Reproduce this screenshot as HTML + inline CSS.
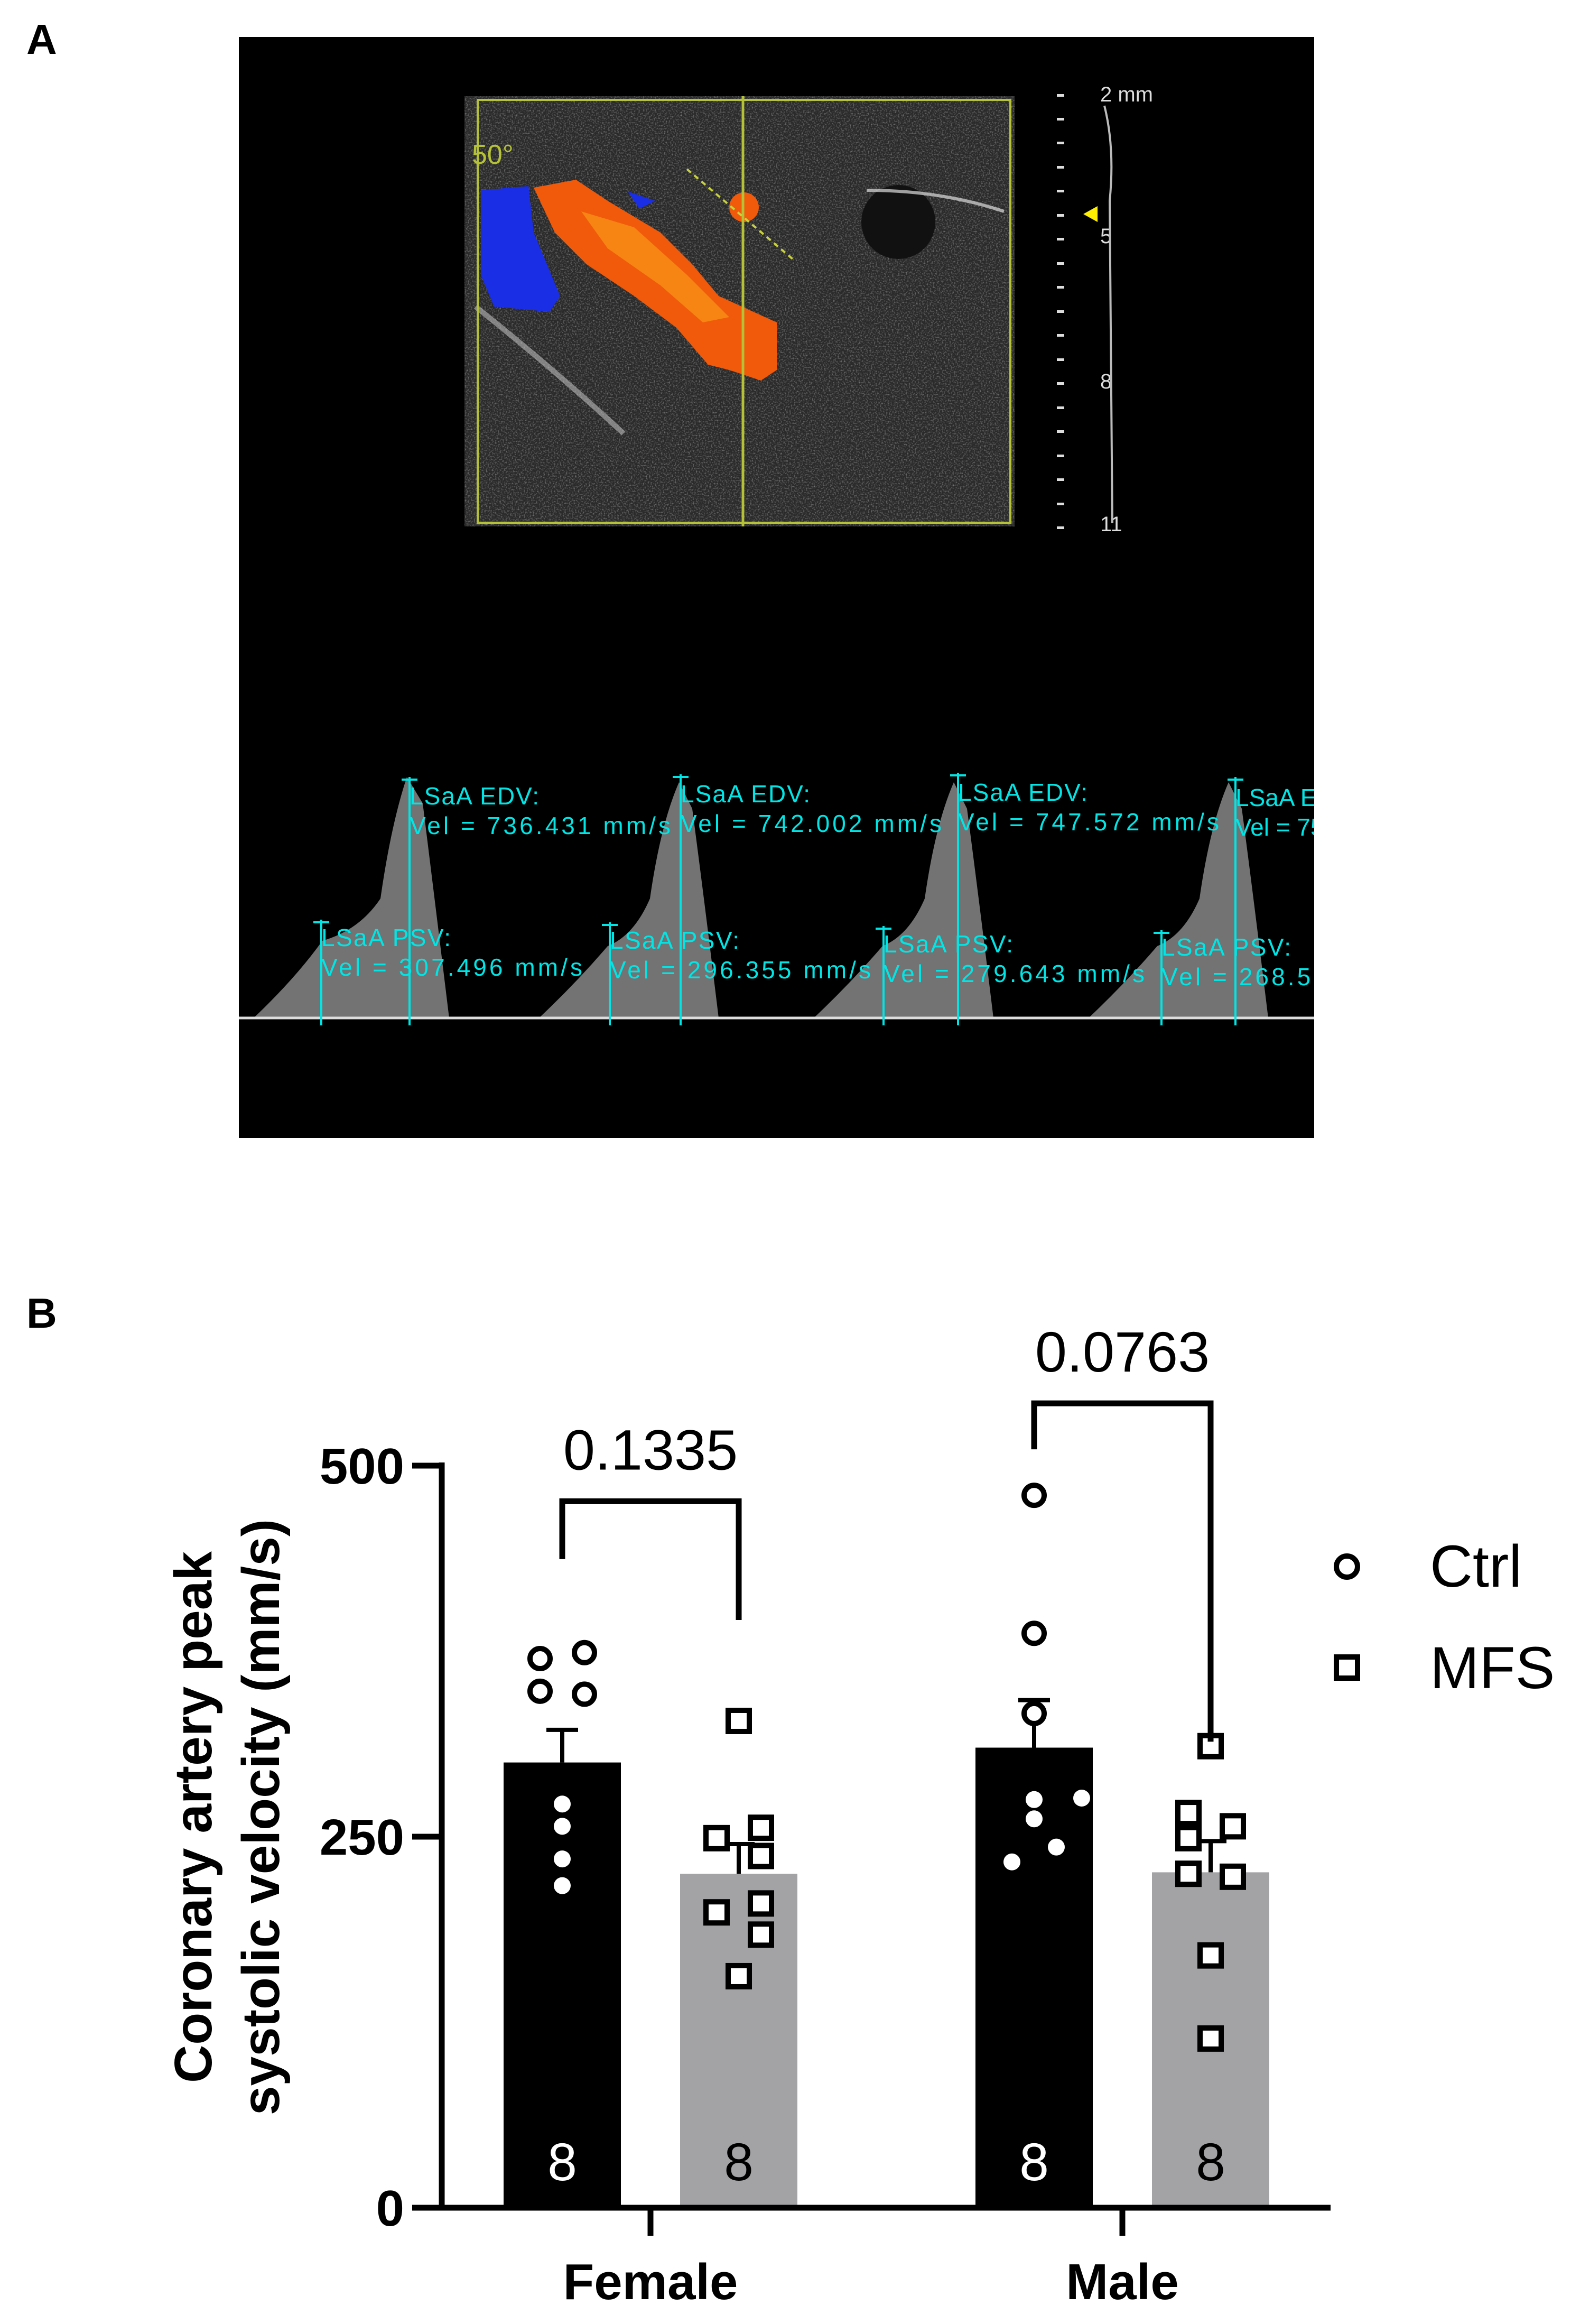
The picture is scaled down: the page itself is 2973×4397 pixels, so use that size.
<!DOCTYPE html>
<html><head><meta charset="utf-8"><style>
html,body{margin:0;padding:0;background:#fff;}
svg{display:block;}
</style></head><body>
<svg id="fig" width="2973" height="4397" viewBox="0 0 2973 4397" xmlns="http://www.w3.org/2000/svg" font-family="Liberation Sans, sans-serif">
<defs>
<filter id="noise" x="0" y="0" width="100%" height="100%">
<feTurbulence type="fractalNoise" baseFrequency="0.35" numOctaves="2" seed="3"/>
<feColorMatrix type="matrix" values="0 0 0 0 1  0 0 0 0 1  0 0 0 0 1  0 0 0 1.6 -0.75"/>
</filter>
<clipPath id="usclip"><rect x="879" y="182" width="1041" height="814"/></clipPath>
<clipPath id="panelclip"><rect x="452" y="70" width="2035" height="2083"/></clipPath>
</defs>
<text x="50" y="102" font-size="80" font-weight="bold">A</text>
<g>
<rect x="452" y="70" width="2035" height="2083" fill="#000"/>
<g clip-path="url(#usclip)">
<rect x="879" y="182" width="1041" height="814" fill="#2a2a2a"/>
<rect x="879" y="182" width="1041" height="814" filter="url(#noise)" opacity="0.55"/>
<ellipse cx="1700" cy="420" rx="70" ry="70" fill="#111"/>
<path d="M900 580 Q1050 700 1180 820" stroke="#bbb" stroke-width="10" fill="none" opacity="0.6"/>
<path d="M1640 360 Q1780 360 1900 400" stroke="#ddd" stroke-width="6" fill="none" opacity="0.7"/>
<path d="M910 360 L1000 352 L1010 440 L1060 560 L1040 590 L935 580 L910 520 Z" fill="#1a2ee6"/>
<path d="M1010 355 L1090 340 L1150 380 L1250 440 L1310 500 L1360 560 L1470 610 L1470 700 L1440 720 L1380 700 L1340 690 L1280 620 L1200 560 L1110 500 L1050 440 Z" fill="#f05a0a"/>
<path d="M1100 400 L1200 430 L1300 520 L1380 600 L1330 610 L1250 540 L1150 470 Z" fill="#f79016" opacity="0.8"/>
<circle cx="1408" cy="392" r="28" fill="#f05a0a"/>
<path d="M1188 362 L1210 395 L1240 380 Z" fill="#1a2ee6"/>
</g>
<rect x="904" y="189" width="1008" height="800" fill="none" stroke="#b5c236" stroke-width="4"/>
<line x1="1406" y1="182" x2="1406" y2="996" stroke="#b5c236" stroke-width="5"/>
<line x1="1300" y1="320" x2="1500" y2="490" stroke="#c8d23c" stroke-width="4" stroke-dasharray="10 8"/>
<text x="893" y="310" font-size="52" fill="#b5c236">50°</text>
<g fill="#ddd">
<rect x="2000" y="178" width="14" height="5"/><rect x="2000" y="223" width="14" height="5"/><rect x="2000" y="268" width="14" height="5"/><rect x="2000" y="314" width="14" height="5"/><rect x="2000" y="359" width="14" height="5"/><rect x="2000" y="405" width="14" height="5"/><rect x="2000" y="450" width="14" height="5"/><rect x="2000" y="496" width="14" height="5"/><rect x="2000" y="541" width="14" height="5"/><rect x="2000" y="587" width="14" height="5"/><rect x="2000" y="632" width="14" height="5"/><rect x="2000" y="678" width="14" height="5"/><rect x="2000" y="723" width="14" height="5"/><rect x="2000" y="769" width="14" height="5"/><rect x="2000" y="814" width="14" height="5"/><rect x="2000" y="860" width="14" height="5"/><rect x="2000" y="905" width="14" height="5"/><rect x="2000" y="951" width="14" height="5"/><rect x="2000" y="996" width="14" height="5"/>
<text x="2082" y="192" font-size="40">2 mm</text><text x="2082" y="460" font-size="40">5</text><text x="2082" y="735" font-size="40">8</text><text x="2082" y="1005" font-size="40">11</text>
</g>
<path d="M2090 200 Q2110 280 2100 380 L2105 990" stroke="#bbb" stroke-width="4" fill="none"/>
<path d="M2050 405 L2077 390 L2077 420 Z" fill="#ffef00"/>
<g clip-path="url(#panelclip)">
<g fill="#9a9a9a" opacity="0.75">
<path d="M480 1926 Q560 1850 610 1780 Q680 1760 720 1700 Q740 1560 770 1470 L800 1520 Q820 1680 850 1926 Z"/>
<path d="M1020 1926 Q1090 1860 1150 1790 Q1200 1770 1230 1700 Q1250 1560 1285 1480 L1310 1530 Q1330 1680 1360 1926 Z"/>
<path d="M1540 1926 Q1610 1860 1670 1790 Q1720 1770 1750 1700 Q1770 1560 1805 1480 L1830 1530 Q1850 1680 1880 1926 Z"/>
<path d="M2060 1926 Q2130 1860 2190 1790 Q2240 1770 2270 1700 Q2290 1560 2325 1480 L2350 1530 Q2370 1680 2400 1926 Z"/>
</g>
<line x1="452" y1="1926" x2="2487" y2="1926" stroke="#ddd" stroke-width="5"/>
<g stroke="#00e5e5" stroke-width="4" fill="#00e5e5" font-size="46">
<line x1="775" y1="1470" x2="775" y2="1940"/><line x1="760" y1="1475" x2="790" y2="1475"/>
<line x1="608" y1="1740" x2="608" y2="1940"/><line x1="593" y1="1745" x2="623" y2="1745"/>
<line x1="1288" y1="1465" x2="1288" y2="1940"/><line x1="1273" y1="1470" x2="1303" y2="1470"/>
<line x1="1154" y1="1745" x2="1154" y2="1940"/><line x1="1139" y1="1750" x2="1169" y2="1750"/>
<line x1="1813" y1="1462" x2="1813" y2="1940"/><line x1="1798" y1="1467" x2="1828" y2="1467"/>
<line x1="1672" y1="1752" x2="1672" y2="1940"/><line x1="1657" y1="1757" x2="1687" y2="1757"/>
<line x1="2338" y1="1470" x2="2338" y2="1940"/><line x1="2323" y1="1475" x2="2353" y2="1475"/>
<line x1="2198" y1="1760" x2="2198" y2="1940"/><line x1="2183" y1="1765" x2="2213" y2="1765"/>
<g stroke="none">
<text x="775" y="1522" textLength="245">LSaA EDV:</text><text x="775" y="1578" textLength="494">Vel = 736.431 mm/s</text>
<text x="1288" y="1518" textLength="245">LSaA EDV:</text><text x="1288" y="1574" textLength="494">Vel = 742.002 mm/s</text>
<text x="1813" y="1515" textLength="245">LSaA EDV:</text><text x="1813" y="1571" textLength="494">Vel = 747.572 mm/s</text>
<text x="2338" y="1525">LSaA EDV:</text><text x="2338" y="1581">Vel = 751.000 mm/s</text>
<text x="608" y="1790" textLength="245">LSaA PSV:</text><text x="608" y="1846" textLength="494">Vel = 307.496 mm/s</text>
<text x="1154" y="1795" textLength="245">LSaA PSV:</text><text x="1154" y="1851" textLength="494">Vel = 296.355 mm/s</text>
<text x="1672" y="1802" textLength="245">LSaA PSV:</text><text x="1672" y="1858" textLength="494">Vel = 279.643 mm/s</text>
<text x="2198" y="1808" textLength="245">LSaA PSV:</text><text x="2198" y="1864" textLength="494">Vel = 268.500 mm/s</text>
</g>
</g>
</g>
</g>
<text x="50" y="2512" font-size="80" font-weight="bold">B</text>
<g id="chart"></g>
<script>
const groups = ['Female', 'Male'];
const seriesNames = ['Ctrl', 'MFS'];
const means = [[300, 310], [225, 226]];
const sems = [[22, 32], [20, 21]];
const ns = [[8, 8], [8, 8]];
const femaleCtrl = [370, 374, 348, 346, 272, 257, 235, 217];
const femaleMfs = [328, 249, 256, 237, 199, 205, 184, 156];
const maleCtrl = [480, 387, 333, 275, 262, 243, 233, 276];
const maleMfs = [311, 266, 257, 249, 225, 223, 170, 114];
const pValues = ['0.1335', '0.0763'];
const bracketTops = [476, 542];
const bracketLeftEnds = [437, 511];
const bracketRightEnds = [396, 314];
const yTicks = [0, 250, 500];

const NS = 'http://www.w3.org/2000/svg';
const g = document.getElementById('chart');
const y0 = 4177, y500 = 2773;
function yScale(v){ return y0 - (v/500)*(y0-y500); }
const groupCenters = [1231, 2124];
const barW = 222;
const barOffset = [-167, 167];
function barCenter(gi, si){ return groupCenters[gi] + barOffset[si]; }
function mk(tag, attrs){ const e=document.createElementNS(NS,tag); for(const k in attrs) e.setAttribute(k, attrs[k]); g.appendChild(e); return e; }
const jitters = {
  f0:[-42,42,-42,42,0,0,0,0], f1:[0,-42,42,42,-42,42,42,0],
  m0:[0,0,0,0,0,42,-42,90], m1:[0,-42,42,-42,-42,42,0,0]
};
const points = [[femaleCtrl, maleCtrl],[femaleMfs, maleMfs]];

for (let si=0; si<2; si++) for (let gi=0; gi<2; gi++) {
  const cx = barCenter(gi, si);
  const top = yScale(means[si][gi]);
  const b = mk('rect', {x: cx-barW/2, y: top, width: barW, height: y0-top, fill: si===0?'#000':'#a3a3a6'});
  
  
  const et = yScale(means[si][gi] + sems[si][gi]);
  const eb = mk('path', {d:`M${cx} ${top} L${cx} ${et} M${cx-30} ${et} L${cx+30} ${et}`, stroke:'#000', 'stroke-width': 8, fill:'none'});
  
  
  const nt = mk('text', {x: cx, y: 4125, 'font-size': 100, 'text-anchor':'middle', fill: si===0?'#fff':'#000'});
  nt.textContent = ns[si][gi];
  
  
  const key = (gi===0?'f':'m') + si;
  points[si][gi].forEach((v, i) => {
    const px = cx + jitters[key][i];
    const py = yScale(v);
    const inside = py > top;
    let m;
    if (si===0) {
      if (inside) m = mk('circle', {cx:px, cy:py, r:16, fill:'#fff'});
      else m = mk('circle', {cx:px, cy:py, r:19, fill:'#fff', stroke:'#000', 'stroke-width':10});
    } else {
      m = mk('rect', {x:px-20, y:py-20, width:40, height:40, fill:'#fff', stroke:'#000', 'stroke-width':10});
    }
    
    
  });
}
const ya = mk('line', {x1:836, y1:yScale(500)-6, x2:836, y2:y0+5, stroke:'#000', 'stroke-width':11});


const xa = mk('line', {x1:831, y1:y0, x2:2518, y2:y0, stroke:'#000', 'stroke-width':11});


yTicks.forEach(t => {
  const yy = yScale(t);
  const tl = mk('line', {x1:780, y1:yy, x2:836, y2:yy, stroke:'#000', 'stroke-width':11});
  
  
  const tt = mk('text', {x: 765, y: yy+34, 'font-size': 96, 'font-weight':'bold', 'text-anchor':'end'});
  tt.textContent = t;
  
  
});
groups.forEach((gname, gi) => {
  const xc = groupCenters[gi];
  const tk = mk('line', {x1:xc, y1:y0, x2:xc, y2:4230, stroke:'#000', 'stroke-width':11});
  
  
  const lb = mk('text', {x: xc, y: 4350, 'font-size': 96, 'font-weight':'bold', 'text-anchor':'middle'});
  lb.textContent = gname;
  
  
  const l = barCenter(gi,0), r = barCenter(gi,1);
  const br = mk('path', {d:`M${l} ${yScale(bracketLeftEnds[gi])} L${l} ${yScale(bracketTops[gi])} L${r} ${yScale(bracketTops[gi])} L${r} ${yScale(bracketRightEnds[gi])}`, stroke:'#000', 'stroke-width':11, fill:'none'});
  
  
  const pt = mk('text', {x:(l+r)/2, y: yScale(bracketTops[gi]) - 60, 'font-size': 108, 'text-anchor':'middle'});
  pt.textContent = pValues[gi];
  
  
});
const yt = mk('text', {transform:'translate(400 3438) rotate(-90)', 'font-size': 100, 'font-weight':'bold', 'text-anchor':'middle'});


const t1 = document.createElementNS(NS,'tspan'); t1.setAttribute('x',0); t1.setAttribute('y',0); t1.textContent='Coronary artery peak'; yt.appendChild(t1);
const t2 = document.createElementNS(NS,'tspan'); t2.setAttribute('x',0); t2.setAttribute('y',128); t2.textContent='systolic velocity (mm/s)'; yt.appendChild(t2);
const lc = mk('circle', {cx:2549, cy:2964, r:20, fill:'#fff', stroke:'#000', 'stroke-width':10});


const lct = mk('text', {x:2706, y:3002, 'font-size':112});
lct.textContent = 'Ctrl';


const lm = mk('rect', {x:2529, y:3135, width:40, height:40, fill:'#fff', stroke:'#000', 'stroke-width':10});


const lmt = mk('text', {x:2706, y:3194, 'font-size':112});
lmt.textContent = 'MFS';


</script>
</svg>
</body></html>
